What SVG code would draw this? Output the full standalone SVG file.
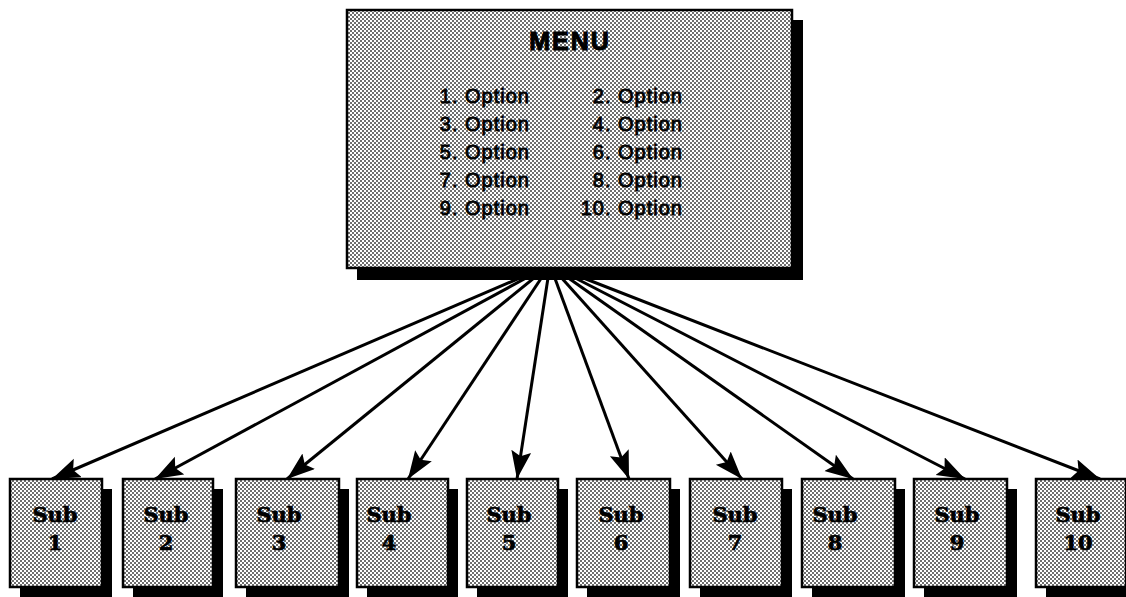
<svg xmlns="http://www.w3.org/2000/svg" width="1126" height="597" viewBox="0 0 1126 597">
<defs>
<pattern id="dots" width="4" height="4" patternUnits="userSpaceOnUse">
<rect width="4" height="4" fill="#ffffff"/>
<rect x="0" y="0" width="2" height="2" fill="#6e6e6e"/>
<rect x="2" y="2" width="2" height="2" fill="#6e6e6e"/>
</pattern>
<marker id="arr" markerUnits="userSpaceOnUse" markerWidth="30" markerHeight="22" refX="28" refY="10" orient="auto">
<path d="M0,0 L28,10 L0,20 L5,10 z" fill="#000"/>
</marker>
<style>
.box{fill:url(#dots);stroke:#000;stroke-width:2.5}
.shadow{fill:#000}
.conn{stroke:#000;stroke-width:3;fill:none;marker-end:url(#arr)}
.title{font-family:"Liberation Sans",Arial,sans-serif;font-weight:bold;font-size:25px;letter-spacing:2px;text-anchor:middle;fill:#000;stroke:#000;stroke-width:1}
.opt{font-family:"Liberation Sans",Arial,sans-serif;font-size:20px;letter-spacing:1px;text-anchor:end;fill:#000;stroke:#000;stroke-width:0.8}
.sub{font-family:"DejaVu Serif",serif;font-weight:bold;font-size:21px;text-anchor:middle;fill:#000;stroke:#000;stroke-width:0.7}
</style>
</defs>
<rect width="1126" height="597" fill="#fff"/>
<g id="connectors">
<line class="conn" x1="550" y1="265" x2="52" y2="479"/>
<line class="conn" x1="550" y1="265" x2="155" y2="479"/>
<line class="conn" x1="550" y1="265" x2="287" y2="479"/>
<line class="conn" x1="550" y1="265" x2="408" y2="479"/>
<line class="conn" x1="550" y1="265" x2="517" y2="479"/>
<line class="conn" x1="550" y1="265" x2="629" y2="479"/>
<line class="conn" x1="550" y1="265" x2="742" y2="479"/>
<line class="conn" x1="550" y1="265" x2="853" y2="479"/>
<line class="conn" x1="550" y1="265" x2="965" y2="479"/>
<line class="conn" x1="550" y1="265" x2="1100" y2="479"/>
</g>
<g id="menu">
<rect class="shadow" x="357" y="20" width="446" height="260"/>
<rect class="box" x="347" y="10" width="445" height="258"/>
<text class="title" x="570" y="50">MENU</text>
<text class="opt" x="530" y="103">1. Option</text>
<text class="opt" x="683" y="103">2. Option</text>
<text class="opt" x="530" y="131">3. Option</text>
<text class="opt" x="683" y="131">4. Option</text>
<text class="opt" x="530" y="159">5. Option</text>
<text class="opt" x="683" y="159">6. Option</text>
<text class="opt" x="530" y="187">7. Option</text>
<text class="opt" x="683" y="187">8. Option</text>
<text class="opt" x="530" y="215">9. Option</text>
<text class="opt" x="683" y="215">10. Option</text>
</g>
<g id="sub1"><rect class="shadow" x="20" y="489" width="92" height="108"/><rect class="box" x="10" y="479" width="92" height="108"/><text class="sub" x="55" y="522">Sub</text><text class="sub" x="55" y="550">1</text></g>
<g id="sub2"><rect class="shadow" x="133" y="489" width="90" height="108"/><rect class="box" x="123" y="479" width="90" height="108"/><text class="sub" x="166" y="522">Sub</text><text class="sub" x="166" y="550">2</text></g>
<g id="sub3"><rect class="shadow" x="246" y="489" width="103" height="108"/><rect class="box" x="236" y="479" width="103" height="108"/><text class="sub" x="279" y="522">Sub</text><text class="sub" x="279" y="550">3</text></g>
<g id="sub4"><rect class="shadow" x="367" y="489" width="91" height="108"/><rect class="box" x="357" y="479" width="91" height="108"/><text class="sub" x="389" y="522">Sub</text><text class="sub" x="389" y="550">4</text></g>
<g id="sub5"><rect class="shadow" x="477" y="489" width="91" height="108"/><rect class="box" x="467" y="479" width="91" height="108"/><text class="sub" x="509" y="522">Sub</text><text class="sub" x="509" y="550">5</text></g>
<g id="sub6"><rect class="shadow" x="587" y="489" width="93" height="108"/><rect class="box" x="577" y="479" width="93" height="108"/><text class="sub" x="621" y="522">Sub</text><text class="sub" x="621" y="550">6</text></g>
<g id="sub7"><rect class="shadow" x="700" y="489" width="92" height="108"/><rect class="box" x="690" y="479" width="92" height="108"/><text class="sub" x="735" y="522">Sub</text><text class="sub" x="735" y="550">7</text></g>
<g id="sub8"><rect class="shadow" x="812" y="489" width="93" height="108"/><rect class="box" x="802" y="479" width="93" height="108"/><text class="sub" x="835" y="522">Sub</text><text class="sub" x="835" y="550">8</text></g>
<g id="sub9"><rect class="shadow" x="924" y="489" width="93" height="108"/><rect class="box" x="914" y="479" width="93" height="108"/><text class="sub" x="957" y="522">Sub</text><text class="sub" x="957" y="550">9</text></g>
<g id="sub10"><rect class="shadow" x="1046" y="489" width="90" height="108"/><rect class="box" x="1036" y="479" width="90" height="108"/><text class="sub" x="1078" y="522">Sub</text><text class="sub" x="1078" y="550">10</text></g>
</svg>
